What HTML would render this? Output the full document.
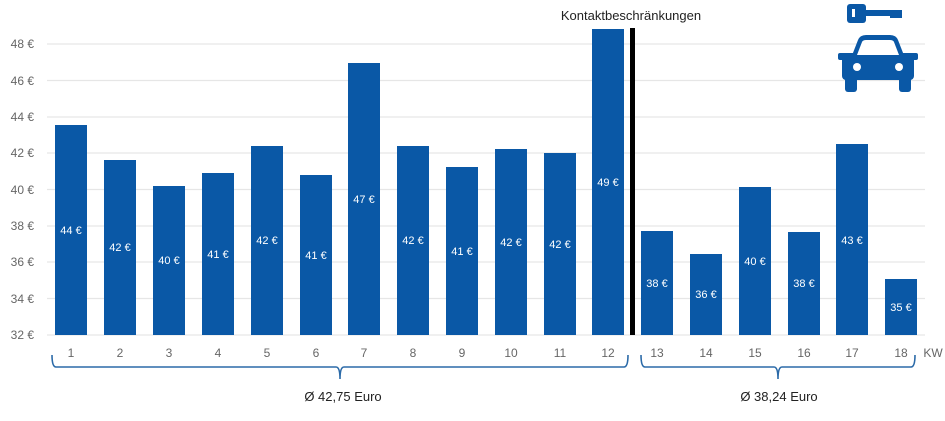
<!DOCTYPE html>
<html><head><meta charset="utf-8"><style>
html,body{margin:0;padding:0;background:#fff;}
svg{display:block;font-family:"Liberation Sans",sans-serif;}
</style></head><body>
<svg width="945" height="421" viewBox="0 0 945 421" xmlns="http://www.w3.org/2000/svg">
<g stroke="#e6e6e6" stroke-width="1.2">
<line x1="47" x2="925" y1="44" y2="44"/><line x1="47" x2="925" y1="80.5" y2="80.5"/>
<line x1="47" x2="925" y1="117" y2="117"/><line x1="47" x2="925" y1="153" y2="153"/>
<line x1="47" x2="925" y1="189.5" y2="189.5"/><line x1="47" x2="925" y1="226" y2="226"/>
<line x1="47" x2="925" y1="262" y2="262"/><line x1="47" x2="925" y1="298.5" y2="298.5"/>
<line x1="47" x2="925" y1="335" y2="335"/>
</g>
<g fill="#666" font-size="12" text-anchor="end">
<text x="34" y="48">48 €</text><text x="34" y="85">46 €</text><text x="34" y="121">44 €</text>
<text x="34" y="157">42 €</text><text x="34" y="194">40 €</text><text x="34" y="230">38 €</text>
<text x="34" y="266">36 €</text><text x="34" y="303">34 €</text><text x="34" y="339">32 €</text>
</g>
<g fill="#0a58a6">
<rect x="55" y="125" width="32" height="210"/>
<rect x="104" y="160" width="32" height="175"/>
<rect x="153" y="186" width="32" height="149"/>
<rect x="202" y="173" width="32" height="162"/>
<rect x="251" y="146" width="32" height="189"/>
<rect x="300" y="175" width="32" height="160"/>
<rect x="348" y="63" width="32" height="272"/>
<rect x="397" y="146" width="32" height="189"/>
<rect x="446" y="167" width="32" height="168"/>
<rect x="495" y="149" width="32" height="186"/>
<rect x="544" y="153" width="32" height="182"/>
<rect x="592" y="29" width="32" height="306"/>
<rect x="641" y="231" width="32" height="104"/>
<rect x="690" y="254" width="32" height="81"/>
<rect x="739" y="187" width="32" height="148"/>
<rect x="788" y="232" width="32" height="103"/>
<rect x="836" y="144" width="32" height="191"/>
<rect x="885" y="279" width="32" height="56"/>
</g>
<rect x="630" y="28" width="5" height="307" fill="#000"/>
<g fill="#fff" font-size="11" text-anchor="middle">
<text x="71" y="234">44 €</text><text x="120" y="251">42 €</text><text x="169" y="264">40 €</text>
<text x="218" y="258">41 €</text><text x="267" y="244">42 €</text><text x="316" y="259">41 €</text>
<text x="364" y="203">47 €</text><text x="413" y="244">42 €</text><text x="462" y="255">41 €</text>
<text x="511" y="246">42 €</text><text x="560" y="248">42 €</text><text x="608" y="186">49 €</text>
<text x="657" y="287">38 €</text><text x="706" y="298">36 €</text><text x="755" y="265">40 €</text>
<text x="804" y="287">38 €</text><text x="852" y="244">43 €</text><text x="901" y="311">35 €</text>
</g>
<g fill="#666" font-size="12" text-anchor="middle">
<text x="71" y="357">1</text><text x="120" y="357">2</text><text x="169" y="357">3</text>
<text x="218" y="357">4</text><text x="267" y="357">5</text><text x="316" y="357">6</text>
<text x="364" y="357">7</text><text x="413" y="357">8</text><text x="462" y="357">9</text>
<text x="511" y="357">10</text><text x="560" y="357">11</text><text x="608" y="357">12</text>
<text x="657" y="357">13</text><text x="706" y="357">14</text><text x="755" y="357">15</text>
<text x="804" y="357">16</text><text x="852" y="357">17</text><text x="901" y="357">18</text>
<text x="933" y="357">KW</text>
</g>
<g fill="none" stroke="#2b6aa8" stroke-width="1.6">
<path d="M52 355 Q52 367 56 367 L336 367 Q340 367 340 379 Q340 367 344 367 L624 367 Q628 367 628 355"/>
<path d="M641 355 Q641 367 645 367 L774 367 Q778 367 778 379 Q778 367 782 367 L911 367 Q915 367 915 355"/>
</g>
<g fill="#222" font-size="13" text-anchor="middle">
<text x="343" y="401">Ø 42,75 Euro</text>
<text x="779" y="401">Ø 38,24 Euro</text>
<text x="631" y="20">Kontaktbeschränkungen</text>
</g>
<g fill="#0a58a6">
<rect x="847" y="4" width="19" height="19" rx="3"/>
<rect x="864" y="10" width="37" height="6"/>
<rect x="890" y="10" width="12" height="8"/>
<rect x="852" y="9" width="3" height="8" fill="#fff"/>
<path d="M851 58 L858 40 Q860 35 866 35 L890 35 Q896 35 898 40 L905 58 Z"/>
<rect x="838" y="53" width="80" height="7" rx="2"/>
<rect x="842" y="56" width="72" height="24" rx="4"/>
<rect x="845" y="75" width="12" height="17" rx="3"/>
<rect x="899" y="75" width="12" height="17" rx="3"/>
<path d="M857 55 L862 42 Q863 40 866 40 L890 40 Q893 40 894 42 L899 55 Z" fill="#fff"/>
<circle cx="857" cy="67" r="4" fill="#fff"/>
<circle cx="899" cy="67" r="4" fill="#fff"/>
</g>
</svg>
</body></html>
